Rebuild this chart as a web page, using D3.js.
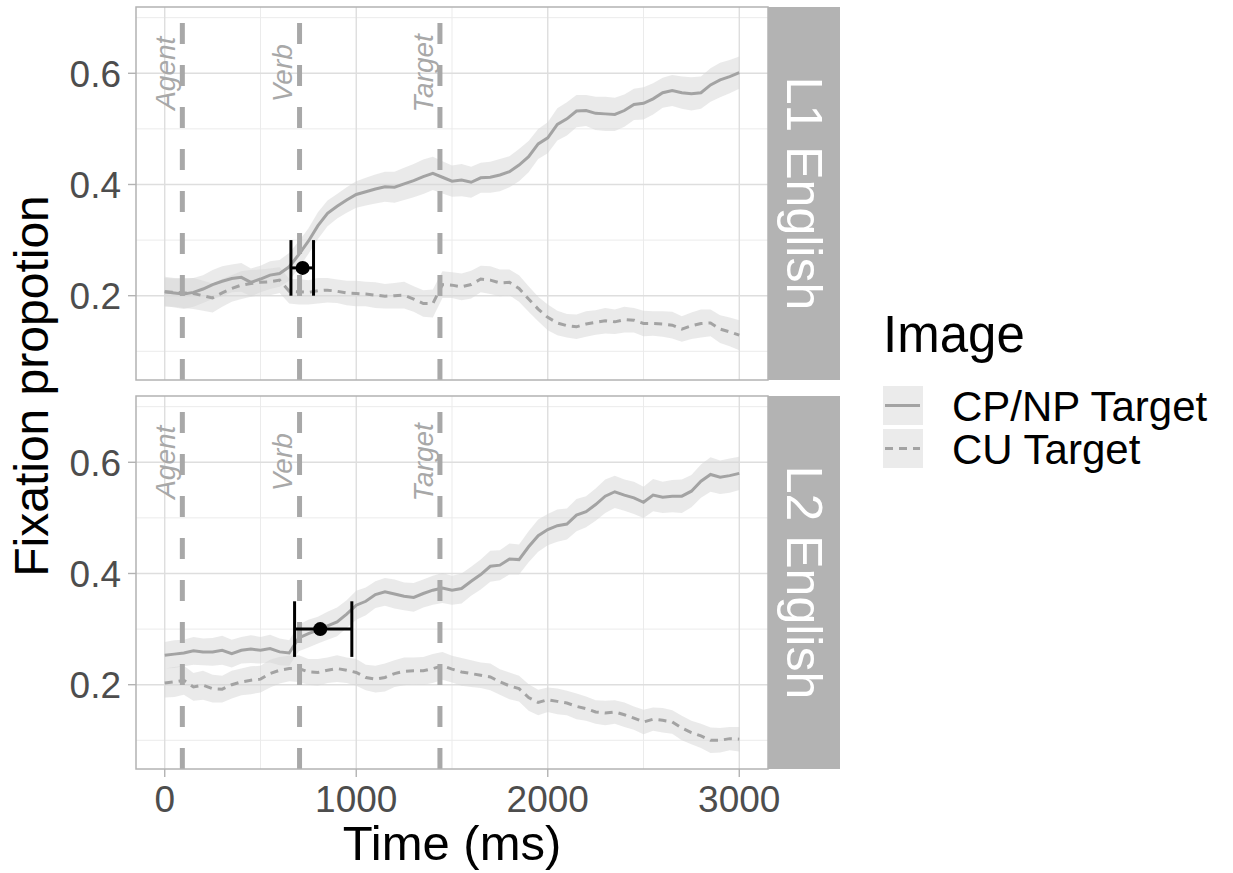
<!DOCTYPE html>
<html>
<head>
<meta charset="utf-8">
<script src="https://cdn.jsdelivr.net/npm/d3@7"></script>
<style>
  body { margin: 0; background: #fff; }
  text { font-family: "Liberation Sans", Arial, sans-serif; }
</style>
</head>
<body>
<svg id="chart" width="1233" height="873"></svg>
<script>
// time bins (ms), one sample every 50 ms
var times = d3.range(0, 3001, 50);

var panels = ['L1 English', 'L2 English'];
var imageTypes = ['CP/NP Target', 'CU Target'];

// L1 English
var l1CP = [0.207,0.205,0.203,0.206,0.212,0.220,0.226,0.231,0.233,0.224,
            0.230,0.237,0.240,0.252,0.274,0.298,0.326,0.348,0.361,0.372,
            0.382,0.387,0.392,0.396,0.395,0.401,0.407,0.414,0.420,0.413,
            0.406,0.408,0.404,0.412,0.413,0.417,0.423,0.435,0.450,0.473,
            0.484,0.508,0.518,0.532,0.533,0.528,0.527,0.526,0.533,0.544,
            0.546,0.554,0.565,0.569,0.565,0.563,0.565,0.579,0.588,0.594,
            0.601];
var l1CPse = [0.025,0.026,0.027,0.026,0.025,0.026,0.027,0.025,0.026,0.025,
              0.024,0.025,0.024,0.025,0.024,0.023,0.024,0.023,0.022,0.023,
              0.024,0.025,0.026,0.027,0.028,0.029,0.030,0.031,0.030,0.029,
              0.028,0.029,0.028,0.027,0.028,0.029,0.028,0.029,0.028,0.027,
              0.028,0.029,0.030,0.029,0.028,0.030,0.031,0.030,0.029,0.028,
              0.029,0.028,0.027,0.028,0.029,0.030,0.029,0.030,0.031,0.030,
              0.029];
var l1CU = [0.207,0.206,0.205,0.204,0.200,0.196,0.205,0.213,0.219,0.222,
            0.224,0.225,0.228,0.208,0.207,0.206,0.209,0.210,0.208,0.205,
            0.204,0.203,0.201,0.199,0.200,0.201,0.194,0.186,0.186,0.220,
            0.219,0.216,0.220,0.230,0.228,0.223,0.224,0.213,0.194,0.176,
            0.161,0.151,0.146,0.144,0.149,0.152,0.155,0.153,0.157,0.156,
            0.150,0.150,0.149,0.147,0.140,0.146,0.150,0.151,0.140,0.135,
            0.129];
var l1CUse = [0.027,0.026,0.027,0.028,0.027,0.026,0.025,0.024,0.025,0.024,
              0.023,0.024,0.023,0.022,0.023,0.022,0.023,0.022,0.021,0.022,
              0.023,0.022,0.023,0.022,0.023,0.024,0.023,0.024,0.025,0.024,
              0.023,0.024,0.025,0.024,0.025,0.024,0.023,0.024,0.023,0.022,
              0.023,0.022,0.021,0.022,0.023,0.022,0.023,0.022,0.023,0.022,
              0.023,0.022,0.023,0.024,0.023,0.024,0.025,0.024,0.025,0.026,
              0.027];

// L2 English
var l2CP = [0.253,0.255,0.257,0.261,0.259,0.259,0.262,0.256,0.262,0.264,
            0.262,0.265,0.259,0.257,0.284,0.292,0.298,0.306,0.313,0.327,
            0.343,0.350,0.362,0.367,0.363,0.359,0.357,0.364,0.370,0.374,
            0.370,0.373,0.386,0.398,0.413,0.415,0.426,0.425,0.448,0.468,
            0.479,0.486,0.489,0.505,0.511,0.524,0.539,0.547,0.541,0.536,
            0.528,0.541,0.537,0.539,0.539,0.548,0.566,0.578,0.573,0.576,
            0.580];
var l2CPse = [0.024,0.025,0.024,0.025,0.024,0.025,0.026,0.025,0.024,0.025,
              0.024,0.025,0.024,0.023,0.024,0.025,0.024,0.025,0.026,0.025,
              0.026,0.025,0.024,0.025,0.026,0.025,0.026,0.025,0.026,0.027,
              0.026,0.027,0.026,0.027,0.028,0.027,0.028,0.027,0.028,0.029,
              0.028,0.029,0.028,0.029,0.028,0.029,0.030,0.029,0.028,0.029,
              0.028,0.029,0.028,0.029,0.030,0.029,0.030,0.031,0.030,0.031,
              0.030];
var l2CU = [0.203,0.205,0.208,0.196,0.199,0.193,0.192,0.200,0.205,0.208,
            0.210,0.220,0.226,0.229,0.229,0.223,0.222,0.226,0.229,0.226,
            0.222,0.213,0.210,0.213,0.220,0.224,0.225,0.225,0.229,0.234,
            0.228,0.223,0.220,0.217,0.214,0.205,0.198,0.193,0.177,0.168,
            0.173,0.170,0.167,0.161,0.157,0.151,0.149,0.151,0.146,0.140,
            0.133,0.138,0.136,0.133,0.122,0.114,0.108,0.100,0.100,0.103,
            0.102];
var l2CUse = [0.026,0.027,0.026,0.025,0.026,0.025,0.024,0.025,0.024,0.025,
              0.024,0.025,0.024,0.023,0.024,0.023,0.024,0.023,0.024,0.023,
              0.024,0.023,0.024,0.025,0.024,0.025,0.024,0.025,0.026,0.025,
              0.024,0.025,0.024,0.023,0.024,0.023,0.024,0.023,0.024,0.023,
              0.022,0.023,0.022,0.023,0.022,0.021,0.022,0.021,0.022,0.021,
              0.022,0.021,0.022,0.021,0.022,0.021,0.022,0.023,0.022,0.021,
              0.022];

// sentence regions (onset in ms)
var eventLabels = ['Agent', 'Verb', 'Target'];
var eventTimes = [92, 704, 1437];

// divergence point with CI, one per panel
var divT = [720, 812];
var divY = [0.25, 0.30];
var divLo = [659, 678];
var divHi = [777, 977];

var xTicks = [0, 1000, 2000, 3000];
var xMinor = [500, 1500, 2500];
var yTicks = [0.2, 0.4, 0.6];
var yMinor = [0.1, 0.3, 0.5, 0.7];

var series = [
  [{mean: l1CP, se: l1CPse}, {mean: l1CU, se: l1CUse}],
  [{mean: l2CP, se: l2CPse}, {mean: l2CU, se: l2CUse}]
];

var lineCol = '#a3a3a3';
var svg = d3.select('#chart');

var left = 136, right = 768, stripW = 72;
var panelTop = [7, 396], panelH = 373;

var x = d3.scaleLinear().domain([-150, 3150]).range([left, right]);

panels.forEach(function(name, p) {
  var y = d3.scaleLinear().domain([0.0484, 0.7192]).range([panelTop[p] + panelH, panelTop[p]]);
  var g = svg.append('g');

  // grid
  g.selectAll('.xminor').data(xMinor).enter().append('line')
    .attr('x1', d => x(d)).attr('x2', d => x(d))
    .attr('y1', y.range()[0]).attr('y2', y.range()[1])
    .attr('stroke', '#ebebeb').attr('stroke-width', 1);
  g.selectAll('.yminor').data(yMinor).enter().append('line')
    .attr('x1', left).attr('x2', right)
    .attr('y1', d => y(d)).attr('y2', d => y(d))
    .attr('stroke', '#ebebeb').attr('stroke-width', 1);
  g.selectAll('.xmajor').data(xTicks).enter().append('line')
    .attr('x1', d => x(d)).attr('x2', d => x(d))
    .attr('y1', y.range()[0]).attr('y2', y.range()[1])
    .attr('stroke', '#dedede').attr('stroke-width', 1.4);
  g.selectAll('.ymajor').data(yTicks).enter().append('line')
    .attr('x1', left).attr('x2', right)
    .attr('y1', d => y(d)).attr('y2', d => y(d))
    .attr('stroke', '#dedede').attr('stroke-width', 1.4);

  var area = d3.area()
    .x((d, i) => x(times[i]))
    .y0(d => y(d.m - d.s))
    .y1(d => y(d.m + d.s));
  var line = d3.line()
    .x((d, i) => x(times[i]))
    .y(d => y(d.m));

  // ribbons
  series[p].forEach(function(s) {
    var pts = s.mean.map((m, i) => ({m: m, s: s.se[i]}));
    g.append('path').attr('d', area(pts))
      .attr('fill', '#d6d6d6').attr('fill-opacity', 0.5);
  });
  // lines
  series[p].forEach(function(s, k) {
    var pts = s.mean.map((m, i) => ({m: m}));
    g.append('path').attr('d', line(pts))
      .attr('fill', 'none').attr('stroke', lineCol).attr('stroke-width', 3)
      .attr('stroke-dasharray', k === 1 ? '8,6' : null);
  });

  // region onsets
  g.selectAll('.ev').data(eventTimes).enter().append('line')
    .attr('x1', d => x(d)).attr('x2', d => x(d))
    .attr('y1', y.range()[0]).attr('y2', y.range()[1])
    .attr('stroke', '#a8a8a8').attr('stroke-width', 5)
    .attr('stroke-dasharray', '21,21');
  g.selectAll('.evlab').data(eventTimes).enter().append('text')
    .attr('transform', d => 'translate(' + x(d - 90) + ',' + y(0.6) + ') rotate(-90)')
    .attr('text-anchor', 'middle').attr('dy', '0.35em')
    .attr('font-size', 28).attr('font-style', 'italic').attr('fill', '#a8a8a8')
    .text((d, i) => eventLabels[i]);

  // divergence point + CI
  var yc = y(divY[p]);
  var cap = y(divY[p] - 0.05) - y(divY[p] + 0.05);
  g.append('line').attr('x1', x(divLo[p])).attr('x2', x(divHi[p]))
    .attr('y1', yc).attr('y2', yc).attr('stroke', '#000').attr('stroke-width', 3);
  [divLo[p], divHi[p]].forEach(function(t) {
    g.append('line').attr('x1', x(t)).attr('x2', x(t))
      .attr('y1', yc - cap / 2).attr('y2', yc + cap / 2)
      .attr('stroke', '#000').attr('stroke-width', 3);
  });
  g.append('circle').attr('cx', x(divT[p])).attr('cy', yc).attr('r', 7).attr('fill', '#000');

  // border
  g.append('rect').attr('x', left).attr('y', panelTop[p]).attr('width', right - left).attr('height', panelH)
    .attr('fill', 'none').attr('stroke', '#b3b3b3').attr('stroke-width', 1.5);

  // strip
  g.append('rect').attr('x', right).attr('y', panelTop[p]).attr('width', stripW).attr('height', panelH)
    .attr('fill', '#b3b3b3');
  g.append('text')
    .attr('transform', 'translate(' + (right + stripW / 2) + ',' + (panelTop[p] + panelH / 2) + ') rotate(90)')
    .attr('text-anchor', 'middle').attr('dy', '0.35em')
    .attr('font-size', 50).attr('fill', '#fff')
    .text(name);

  // y axis
  g.selectAll('.ytick').data(yTicks).enter().append('line')
    .attr('x1', left - 8).attr('x2', left)
    .attr('y1', d => y(d)).attr('y2', d => y(d))
    .attr('stroke', '#b3b3b3').attr('stroke-width', 1.4);
  g.selectAll('.ylab').data(yTicks).enter().append('text')
    .attr('x', left - 15).attr('y', d => y(d)).attr('dy', '0.36em')
    .attr('text-anchor', 'end').attr('font-size', 37).attr('fill', '#4d4d4d')
    .text(d => d3.format('.1f')(d));

  if (p === 1) {
    var yb = panelTop[p] + panelH;
    g.selectAll('.xtick').data(xTicks).enter().append('line')
      .attr('x1', d => x(d)).attr('x2', d => x(d))
      .attr('y1', yb).attr('y2', yb + 8)
      .attr('stroke', '#b3b3b3').attr('stroke-width', 1.4);
    g.selectAll('.xlab').data(xTicks).enter().append('text')
      .attr('x', d => x(d)).attr('y', 812)
      .attr('text-anchor', 'middle').attr('font-size', 37).attr('fill', '#4d4d4d')
      .text(d => d);
  }
});

// axis titles
svg.append('text').attr('x', (left + right) / 2).attr('y', 860)
  .attr('text-anchor', 'middle').attr('font-size', 49).attr('fill', '#000')
  .text('Time (ms)');
svg.append('text').attr('transform', 'translate(48,386) rotate(-90)')
  .attr('text-anchor', 'middle').attr('font-size', 48).attr('fill', '#000')
  .text('Fixation propotion');

// legend
var lg = svg.append('g').attr('transform', 'translate(883,0)');
lg.append('text').attr('x', 0).attr('y', 352).attr('font-size', 51).attr('fill', '#000').text('Image');
imageTypes.forEach(function(lab, k) {
  var ky = 386 + k * 43;
  lg.append('rect').attr('x', 0).attr('y', ky).attr('width', 40).attr('height', 39).attr('fill', '#ebebeb');
  lg.append('line').attr('x1', 2).attr('x2', 37).attr('y1', ky + 19.5).attr('y2', ky + 19.5)
    .attr('stroke', lineCol).attr('stroke-width', 3)
    .attr('stroke-dasharray', k === 1 ? '8,6' : null);
  lg.append('text').attr('x', 69).attr('y', ky + 19.5).attr('dy', '0.36em')
    .attr('font-size', 42).attr('fill', '#000').text(lab);
});
</script>
</body>
</html>
